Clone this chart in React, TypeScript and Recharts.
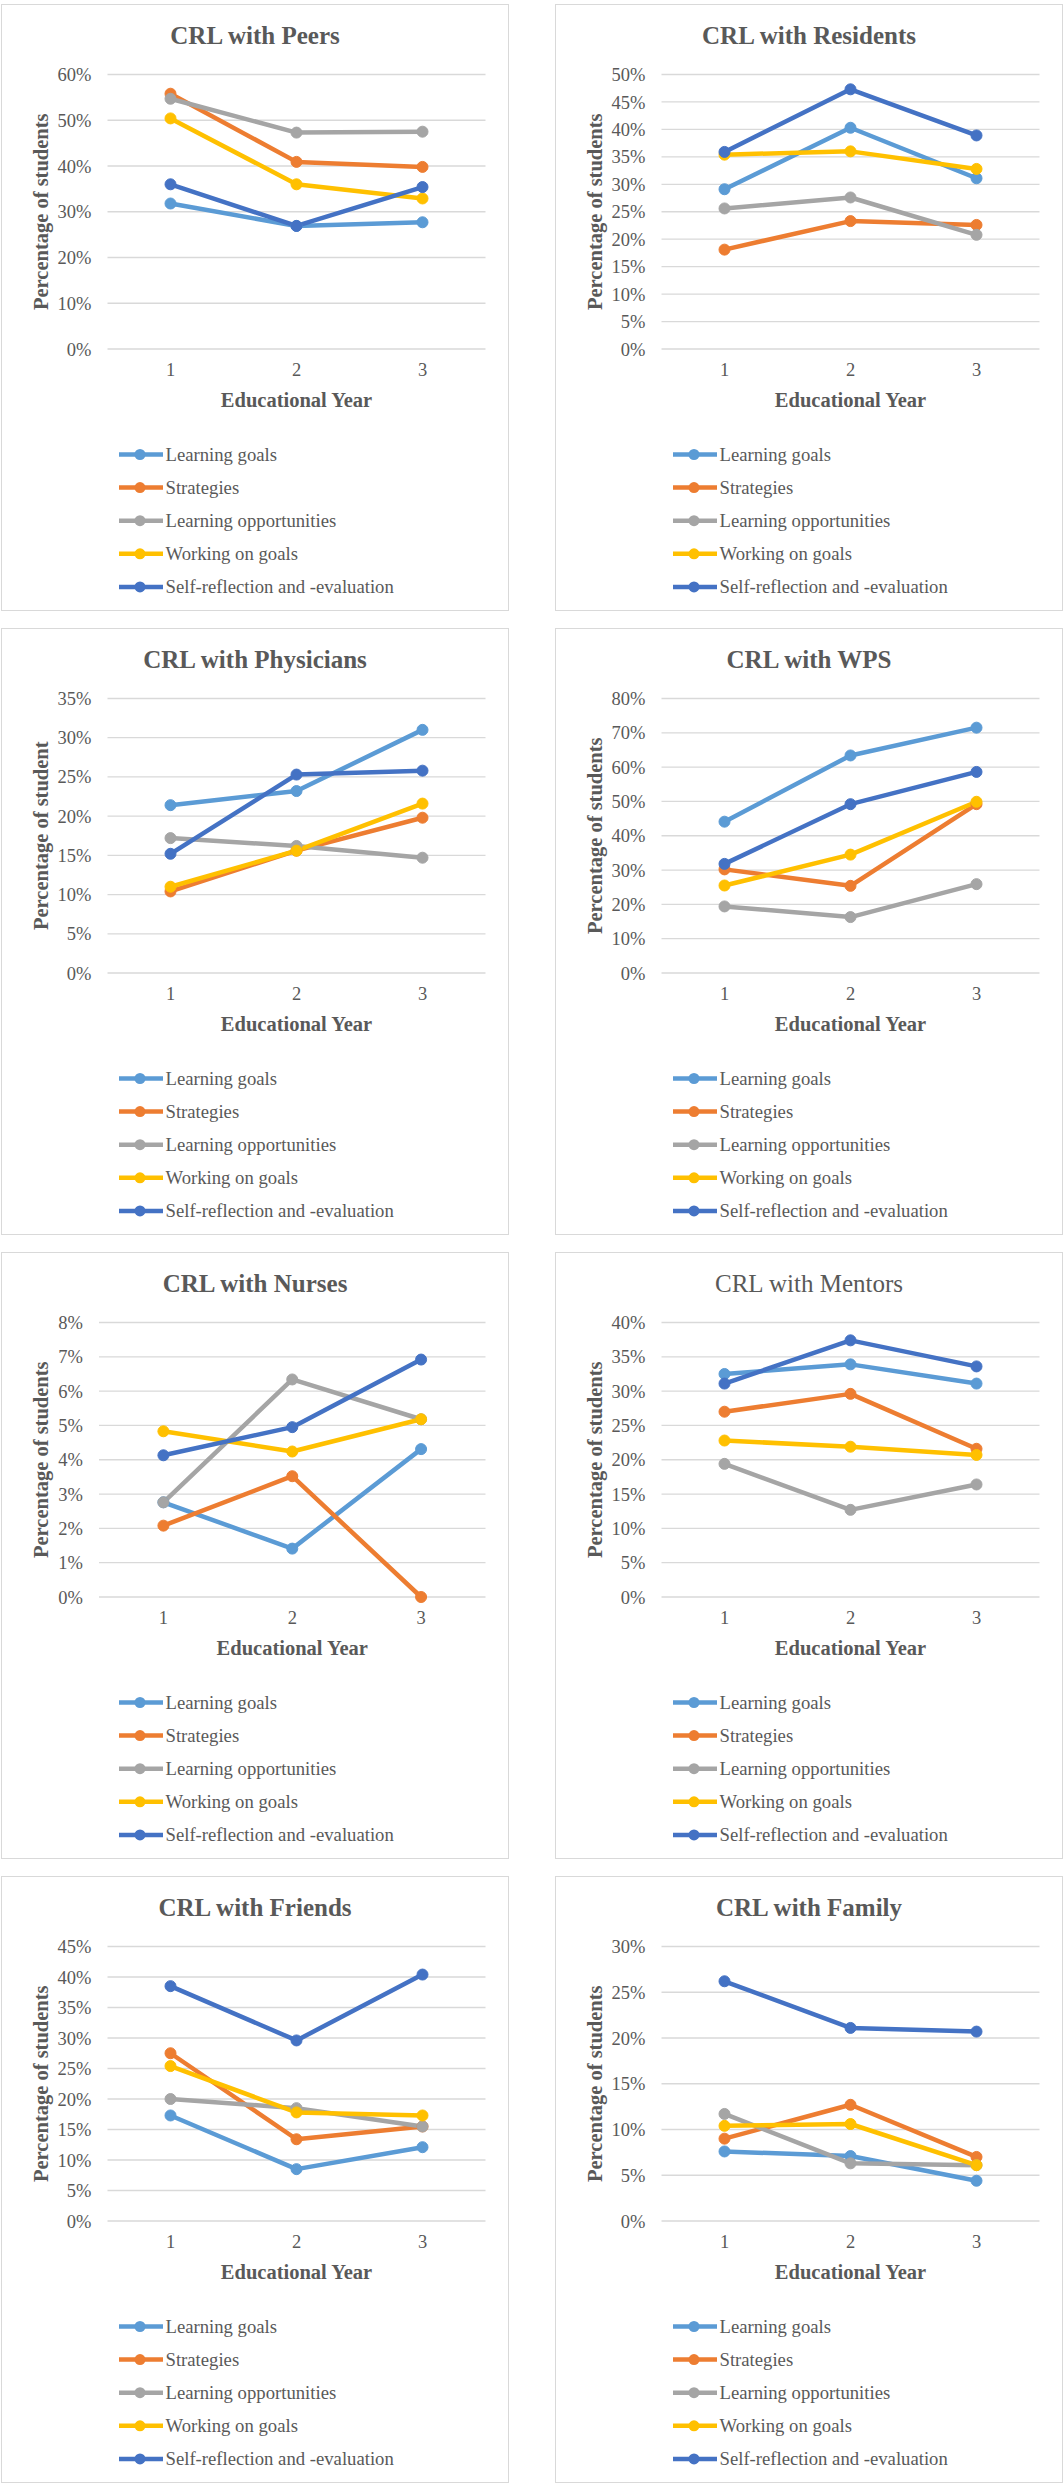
import React from "react";
import { LineChart, Line, XAxis, YAxis, CartesianGrid, Legend } from "recharts";

// ---------- data ----------
const years = ["1", "2", "3"];
const seriesNames = [
  "Learning goals",
  "Strategies",
  "Learning opportunities",
  "Working on goals",
  "Self-reflection and -evaluation",
];
const seriesColors = ["#5B9BD5", "#ED7D31", "#A5A5A5", "#FFC000", "#4472C4"];

// values in percent; one row per series (same order as seriesNames), one column per year
const peersValues = [
  [31.8, 26.9, 27.7],
  [55.8, 40.9, 39.8],
  [54.7, 47.3, 47.5],
  [50.4, 36.0, 32.9],
  [36.0, 26.9, 35.4],
];
const residentsValues = [
  [29.1, 40.3, 31.1],
  [18.1, 23.3, 22.6],
  [25.6, 27.6, 20.8],
  [35.4, 36.0, 32.8],
  [35.9, 47.3, 38.9],
];
const physiciansValues = [
  [21.4, 23.2, 31.0],
  [10.4, 15.6, 19.8],
  [17.2, 16.2, 14.7],
  [11.0, 15.6, 21.6],
  [15.2, 25.3, 25.8],
];
const wpsValues = [
  [44.1, 63.4, 71.5],
  [30.2, 25.4, 49.2],
  [19.4, 16.3, 25.9],
  [25.5, 34.5, 49.9],
  [31.8, 49.2, 58.6],
];
const nursesValues = [
  [2.76, 1.41, 4.31],
  [2.08, 3.52, 0.0],
  [2.76, 6.34, 5.18],
  [4.83, 4.24, 5.18],
  [4.13, 4.95, 6.92],
];
const mentorsValues = [
  [32.5, 33.9, 31.1],
  [27.0, 29.6, 21.6],
  [19.4, 12.7, 16.4],
  [22.8, 21.9, 20.7],
  [31.1, 37.4, 33.6],
];
const friendsValues = [
  [17.3, 8.5, 12.1],
  [27.5, 13.4, 15.5],
  [20.0, 18.5, 15.5],
  [25.4, 17.8, 17.3],
  [38.5, 29.6, 40.4],
];
const familyValues = [
  [7.6, 7.1, 4.4],
  [9.0, 12.7, 7.0],
  [11.7, 6.3, 6.1],
  [10.4, 10.6, 6.1],
  [26.2, 21.1, 20.7],
];

const peersTicks = [0, 10, 20, 30, 40, 50, 60];
const residentsTicks = [0, 5, 10, 15, 20, 25, 30, 35, 40, 45, 50];
const physiciansTicks = [0, 5, 10, 15, 20, 25, 30, 35];
const wpsTicks = [0, 10, 20, 30, 40, 50, 60, 70, 80];
const nursesTicks = [0, 1, 2, 3, 4, 5, 6, 7, 8];
const mentorsTicks = [0, 5, 10, 15, 20, 25, 30, 35, 40];
const friendsTicks = [0, 5, 10, 15, 20, 25, 30, 35, 40, 45];
const familyTicks = [0, 5, 10, 15, 20, 25, 30];

const panelTitles = [
  "CRL with Peers",
  "CRL with Residents",
  "CRL with Physicians",
  "CRL with WPS",
  "CRL with Nurses",
  "CRL with Mentors",
  "CRL with Friends",
  "CRL with Family",
];
const xAxisTitle = "Educational Year";
const yAxisTitles = [
  "Percentage of students",
  "Percentage of students",
  "Percentage of student",
  "Percentage of students",
  "Percentage of students",
  "Percentage of students",
  "Percentage of students",
  "Percentage of students",
];

// ---------- layout ----------
const FONT = "'Liberation Serif', 'Times New Roman', serif";
const TEXT = "#595959";
const GRID = "#D9D9D9";
const W = 508;
const H = 607;
const PLOT_TOP = 70.5;
const PLOT_H = 274.5;
const MARGIN_R = 23.5;
const XAXIS_H = 40;
const COL_X = [1, 555];
const ROW_Y = [4, 628, 1252, 1876];

const panels = [
  { values: peersValues, ticks: peersTicks, yW: 106.5, bold: true },
  { values: residentsValues, ticks: residentsTicks, yW: 106.5, bold: true },
  { values: physiciansValues, ticks: physiciansTicks, yW: 106.5, bold: true },
  { values: wpsValues, ticks: wpsTicks, yW: 106.5, bold: true },
  { values: nursesValues, ticks: nursesTicks, yW: 98, bold: true },
  { values: mentorsValues, ticks: mentorsTicks, yW: 106.5, bold: false },
  { values: friendsValues, ticks: friendsTicks, yW: 106.5, bold: true },
  { values: familyValues, ticks: familyTicks, yW: 106.5, bold: true },
];

const LEG_TOP = 433.5;
const LEG_LEFT = 118;
const LEG_ROW = 33.1;

function LegendContent() {
  return (
    <svg width={360} height={170} style={{ display: "block", overflow: "visible" }}>
      {seriesNames.map((name, i) => {
        const cy = 16.5 + i * LEG_ROW;
        return (
          <g key={name}>
            <line x1={0} x2={44} y1={cy} y2={cy} stroke={seriesColors[i]} strokeWidth={4.5} />
            <circle cx={21} cy={cy} r={5.5} fill={seriesColors[i]} />
            <text
              x={46.5}
              y={cy}
              dominantBaseline="central"
              fontFamily={FONT}
              fontSize={18.7}
              fill={TEXT}
            >
              {name}
            </text>
          </g>
        );
      })}
    </svg>
  );
}

function Panel({ index }: { index: number }) {
  const cfg = panels[index];
  const left = COL_X[index % 2];
  const top = ROW_Y[Math.floor(index / 2)];
  const data = years.map((y, i) => {
    const row: Record<string, any> = { year: y };
    cfg.values.forEach((s, k) => {
      row["s" + k] = s[i];
    });
    return row;
  });
  const plotW = W - MARGIN_R - cfg.yW;
  const pad = plotW / 6;
  const yMax = cfg.ticks[cfg.ticks.length - 1];
  const marginBottom = H - PLOT_TOP - PLOT_H - XAXIS_H;

  return (
    <div style={{ position: "absolute", left, top, width: W, height: H, background: "#fff" }}>
      <LineChart
        width={W}
        height={H}
        data={data}
        margin={{ top: PLOT_TOP, right: MARGIN_R, bottom: marginBottom, left: 0 }}
      >
        <CartesianGrid vertical={false} stroke={GRID} strokeWidth={1.3} />
        <XAxis
          dataKey="year"
          type="category"
          height={XAXIS_H}
          axisLine={false}
          tickLine={false}
          tickSize={0}
          tickMargin={14}
          interval={0}
          padding={{ left: pad, right: pad }}
          tick={{ fill: TEXT, fontSize: 18.5, fontFamily: FONT }}
        />
        <YAxis
          type="number"
          width={cfg.yW}
          domain={[0, yMax]}
          ticks={cfg.ticks}
          interval={0}
          axisLine={false}
          tickLine={false}
          tickSize={0}
          tickMargin={16}
          tickFormatter={(v: number) => `${v}%`}
          tick={{ fill: TEXT, fontSize: 18.5, fontFamily: FONT }}
        />
        {seriesNames.map((name, k) => (
          <Line
            key={name}
            type="linear"
            dataKey={"s" + k}
            name={name}
            stroke={seriesColors[k]}
            strokeWidth={4.5}
            strokeLinejoin="round"
            dot={{ r: 5.5, fill: seriesColors[k], stroke: seriesColors[k], strokeWidth: 1 }}
            activeDot={false}
            isAnimationActive={false}
          />
        ))}
        <Legend
          layout="vertical"
          align="center"
          verticalAlign="middle"
          wrapperStyle={{ top: LEG_TOP, left: LEG_LEFT, width: 360, height: 170 }}
          content={() => <LegendContent />}
        />
      </LineChart>
      <svg
        width={W}
        height={H}
        style={{ position: "absolute", left: 0, top: 0, pointerEvents: "none" }}
      >
        <text
          x={W / 2}
          y={31.5}
          textAnchor="middle"
          dominantBaseline="central"
          fontFamily={FONT}
          fontSize={25}
          fontWeight={cfg.bold ? "bold" : "normal"}
          fill={TEXT}
        >
          {panelTitles[index]}
        </text>
        <text
          x={cfg.yW + plotW / 2}
          y={396}
          textAnchor="middle"
          dominantBaseline="central"
          fontFamily={FONT}
          fontSize={20.5}
          fontWeight="bold"
          fill={TEXT}
        >
          {xAxisTitle}
        </text>
        <text
          x={39.5}
          y={PLOT_TOP + PLOT_H / 2}
          textAnchor="middle"
          dominantBaseline="central"
          fontFamily={FONT}
          fontSize={20.5}
          fontWeight="bold"
          fill={TEXT}
          transform={`rotate(-90, 39.5, ${PLOT_TOP + PLOT_H / 2})`}
        >
          {yAxisTitles[index]}
        </text>
      </svg>
      <div
        style={{
          position: "absolute",
          left: 0,
          top: 0,
          width: W,
          height: H,
          boxSizing: "border-box",
          border: `1px solid ${GRID}`,
          pointerEvents: "none",
        }}
      />
    </div>
  );
}

export default function App() {
  return (
    <div
      style={{
        position: "absolute",
        left: 0,
        top: 0,
        width: 1064,
        height: 2483,
        background: "#fff",
        overflow: "hidden",
      }}
    >
      {panels.map((_, i) => (
        <Panel key={i} index={i} />
      ))}
    </div>
  );
}
